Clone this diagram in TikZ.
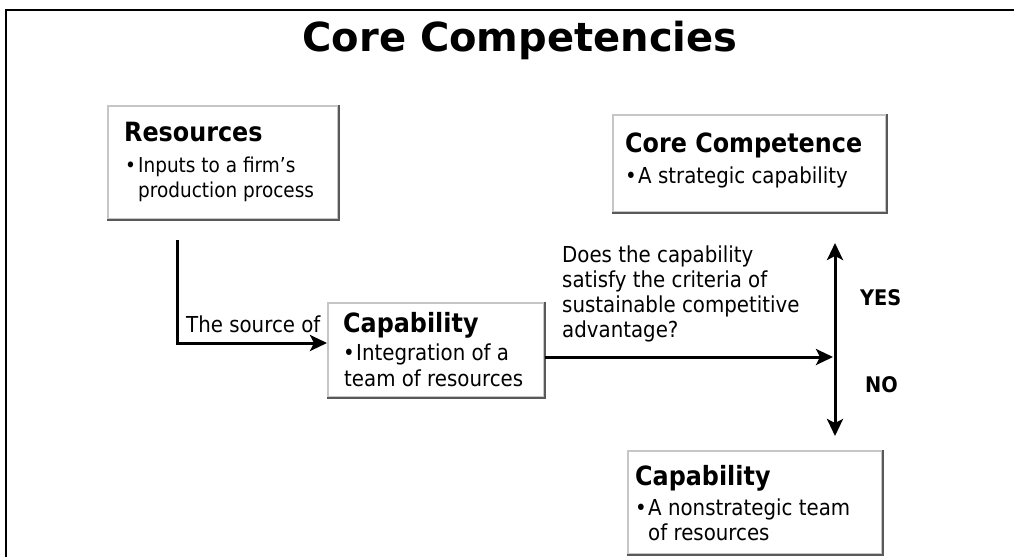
\documentclass[tikz,border=0pt]{standalone}
\usepackage{fontspec}
\setmainfont{DejaVu Sans}[FakeStretch=0.9]
\newfontfamily\titlefont{DejaVu Sans}
\usetikzlibrary{arrows.meta}
\tikzset{
  x=1pt, y=-1pt,
  boxnode/.style={draw=gray!45, line width=1.6pt, fill=white, inner sep=0pt, anchor=north west},
  boxshadow/.style={draw=gray!70!black, line width=2.2pt},
  head/.style={anchor=base west, inner sep=0pt, font=\fontsize{26.5}{30}\selectfont\bfseries},
  body/.style={anchor=base west, inner sep=0pt, font=\fontsize{22}{25}\selectfont},
  smallbody/.style={anchor=base west, inner sep=0pt, font=\fontsize{20.5}{25}\selectfont},
  answer/.style={anchor=base west, inner sep=0pt, font=\fontsize{21.5}{25}\selectfont\bfseries},
  arr/.style={line width=3pt, -{Stealth[length=17pt,width=16pt,inset=4pt]}},
  dblarr/.style={line width=3pt, {Stealth[length=17pt,width=16pt,inset=4pt]}-{Stealth[length=17pt,width=16pt,inset=4pt]}},
}
\newcommand{\bul}{\makebox[13pt][l]{\textbullet}}
\begin{document}
\begin{tikzpicture}
\useasboundingbox (0,0) rectangle (1014,557);
\fill[white] (0,0) rectangle (1014,557);
% frame
\draw[line width=2pt] (6,557) -- (6,10) -- (1014,10);
% title
\node[anchor=base, inner sep=0pt, font=\titlefont\fontsize{40}{44}\selectfont\bfseries] (title) at (520,51) {Core Competencies};

% Resources
\node[boxnode, minimum width=230pt, minimum height=113pt] (res) at (107,105) {};
\draw[boxshadow] (res.north east) -- (res.south east) -- (res.south west);
\node[head] (resH) at (124,141) {Resources};
\node[smallbody] (resB1) at (125,172) {\bul Inputs to a firm's};
\node[smallbody] (resB2) at (138,197) {production process};

% Core competence
\node[boxnode, minimum width=273pt, minimum height=97pt] (core) at (612,114) {};
\draw[boxshadow] (core.north east) -- (core.south east) -- (core.south west);
\node[head] (coreH) at (625,152) {Core Competence};
\node[body] (coreB1) at (625,183) {\bul A strategic capability};

% Capability (middle)
\node[boxnode, minimum width=216pt, minimum height=94pt] (cap) at (327,302) {};
\draw[boxshadow] (cap.north east) -- (cap.south east) -- (cap.south west);
\node[head] (capH) at (343,332) {Capability};
\node[body] (capB1) at (343,360) {\bul Integration of a};
\node[body] (capB2) at (344,386) {team of resources};

% Capability (bottom)
\node[boxnode, minimum width=254pt, minimum height=103pt] (ncap) at (627,450) {};
\draw[boxshadow] (ncap.north east) -- (ncap.south east) -- (ncap.south west);
\node[head] (ncapH) at (635,485) {Capability};
\node[body] (ncapB1) at (635,515) {\bul A nonstrategic team};
\node[body] (ncapB2) at (648,540) {of resources};

% connectors
\coordinate (srcTop) at (177,240);
\coordinate (capIn) at (327,343);
\draw[arr] (srcTop) |- (capIn);
\node[body] (srcLbl) at (186,332) {The source of};

\coordinate (qIn) at (833,357);
\draw[arr] (cap.east |- qIn) -- (qIn);

\coordinate (yesTip) at (835,243);
\coordinate (noTip) at (835,436);
\draw[dblarr] (yesTip) -- (noTip);

\node[body] (q1) at (562,262) {Does the capability};
\node[body] (q2) at (562,287) {satisfy the criteria of};
\node[body] (q3) at (562,312) {sustainable competitive};
\node[body] (q4) at (562,337) {advantage?};

\node[answer] (yes) at (860,305) {YES};
\node[answer] (no) at (865,392) {NO};
\end{tikzpicture}
\end{document}
